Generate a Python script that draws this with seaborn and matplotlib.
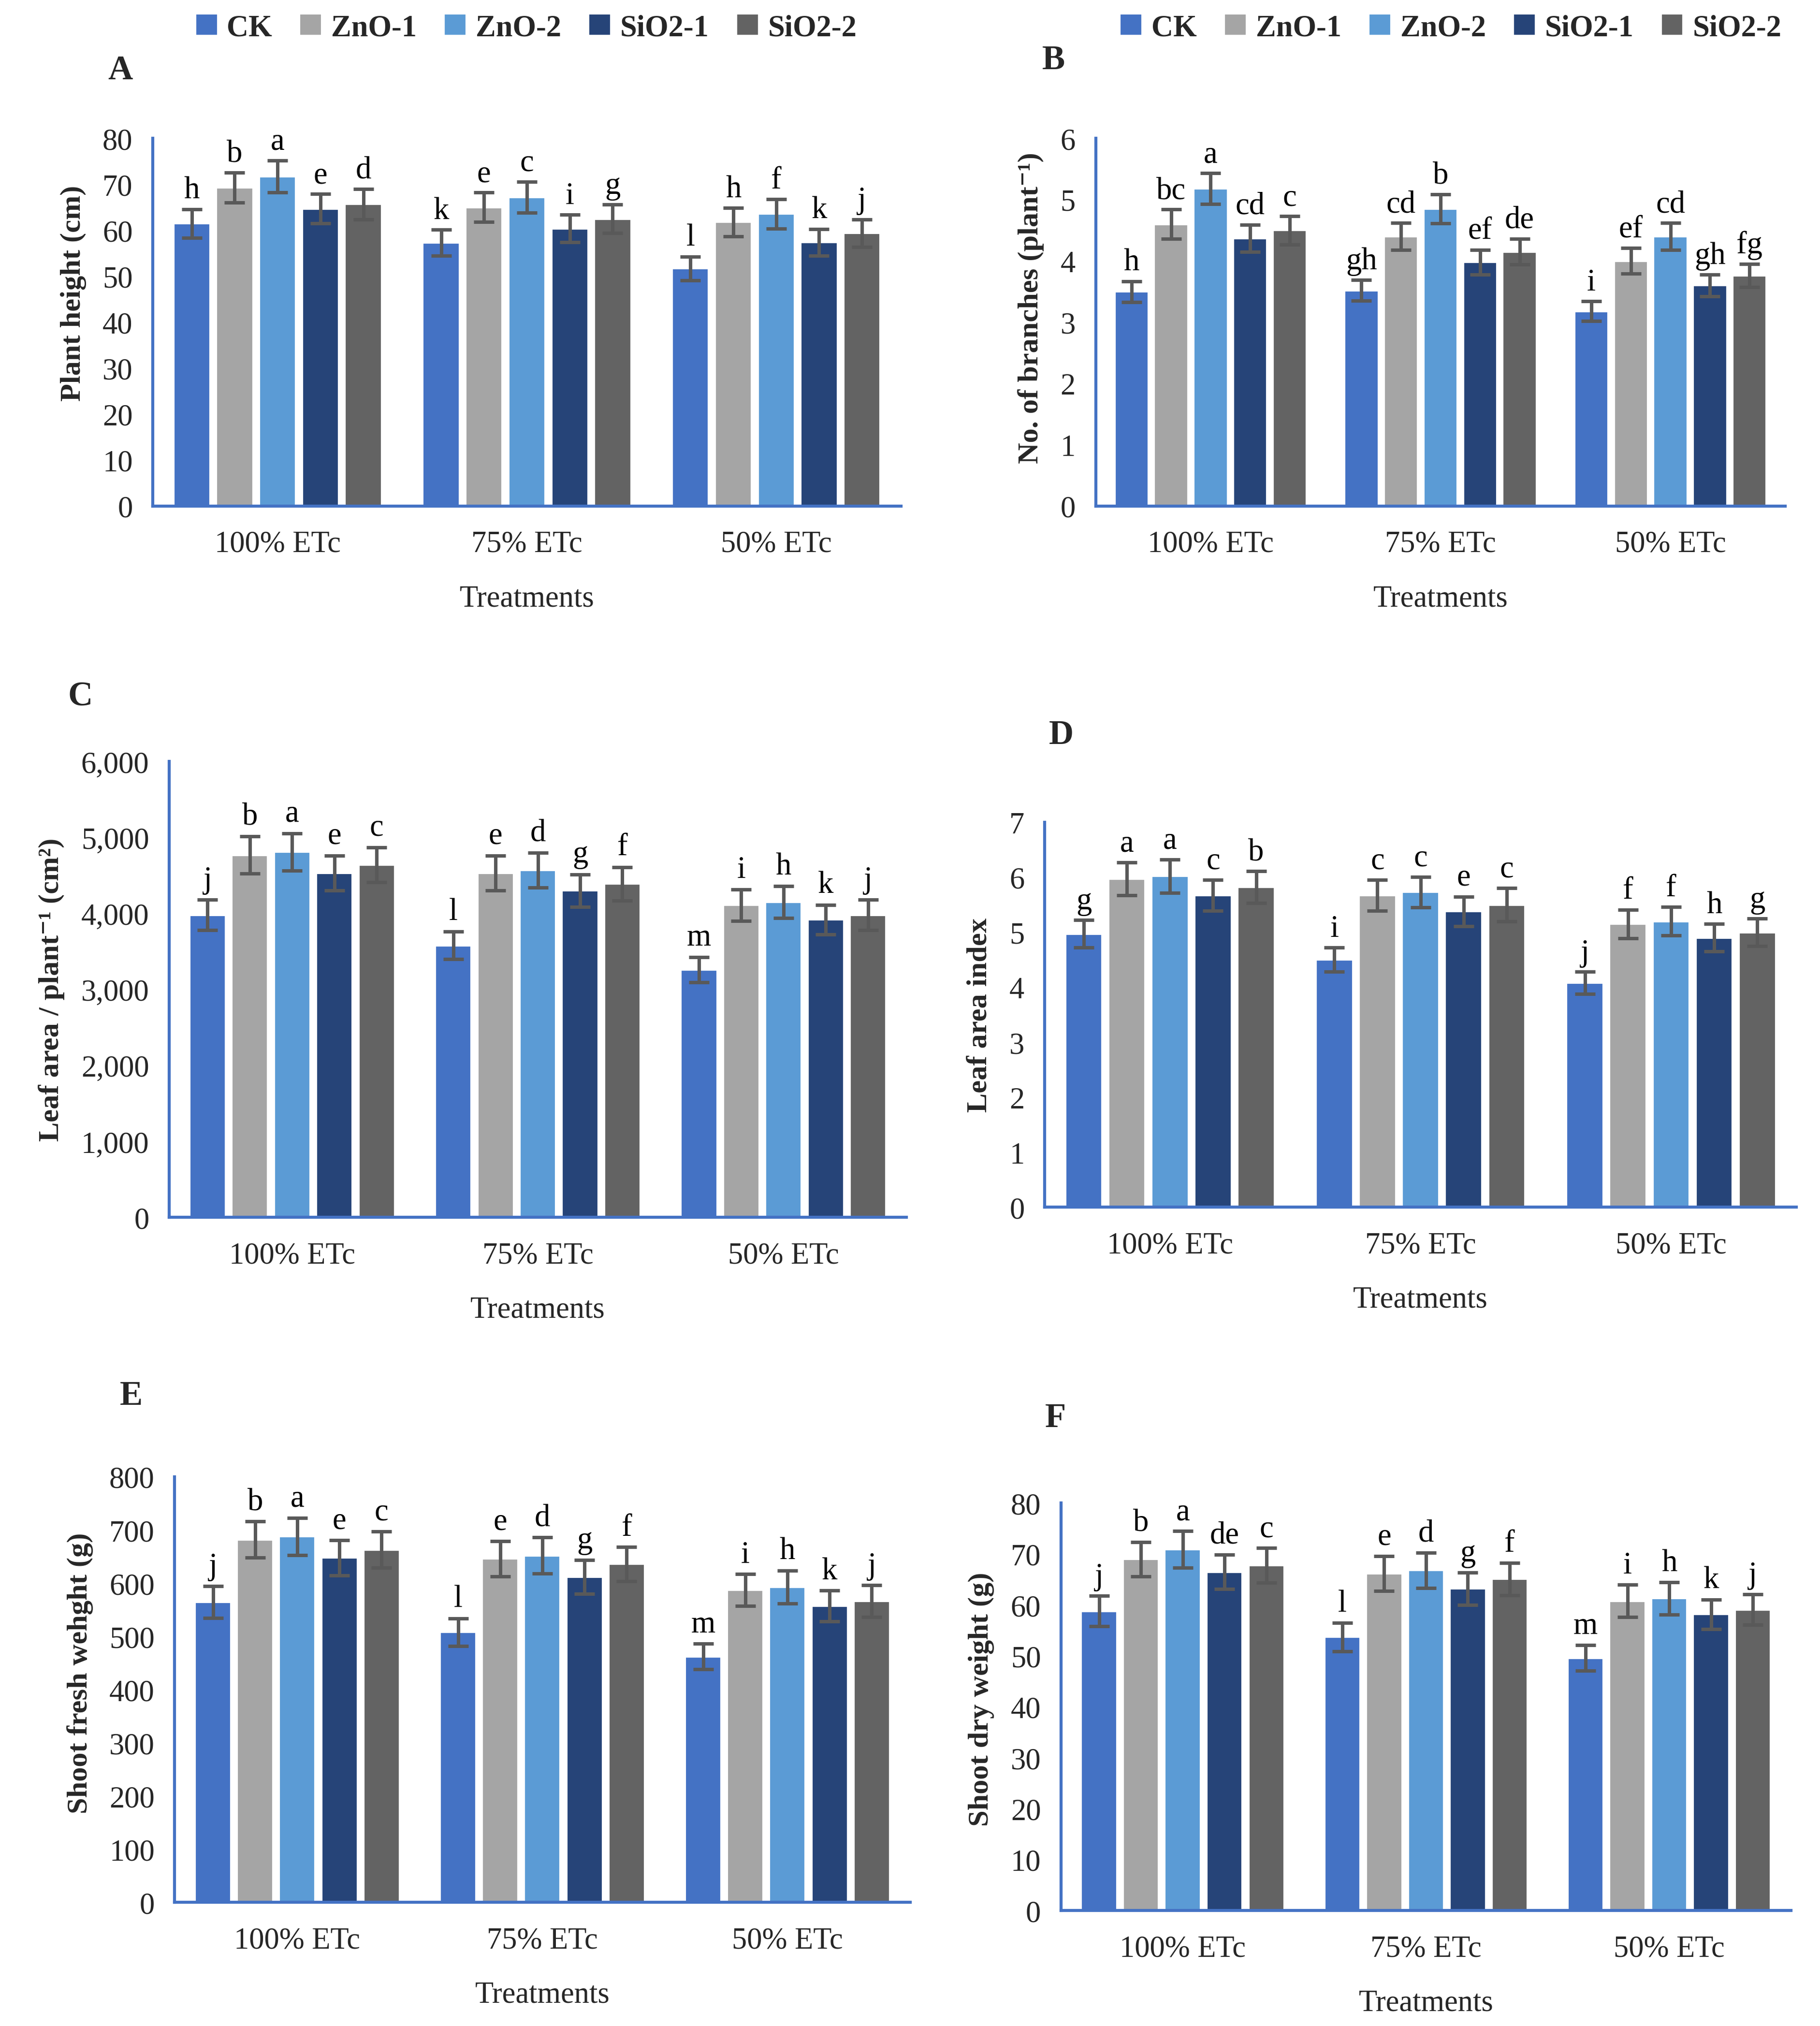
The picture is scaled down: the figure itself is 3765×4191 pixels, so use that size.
import seaborn as sns
import pandas as pd
import matplotlib.pyplot as plt
from matplotlib.ticker import FuncFormatter

treatments = ["100% ETc", "75% ETc", "50% ETc"]
series = ["CK", "ZnO-1", "ZnO-2", "SiO2-1", "SiO2-2"]
colors = ["#4472C4", "#A5A5A5", "#5B9BD5", "#264478", "#636363"]

# rows = treatments, columns = series
# A - plant height
height_mean = [[61.5, 69.3, 71.7, 64.7, 65.7],
               [57.3, 65.0, 67.2, 60.4, 62.5],
               [51.7, 61.8, 63.6, 57.4, 59.4]]
height_err = [[3.1, 3.3, 3.5, 3.2, 3.3],
              [2.8, 3.2, 3.4, 3.0, 3.1],
              [2.6, 3.1, 3.2, 2.9, 3.0]]
height_let = [["h", "b", "a", "e", "d"],
              ["k", "e", "c", "i", "g"],
              ["l", "h", "f", "k", "j"]]

# B - number of branches
branch_mean = [[3.50, 4.60, 5.18, 4.37, 4.50],
               [3.52, 4.40, 4.85, 3.98, 4.15],
               [3.18, 4.00, 4.40, 3.60, 3.76]]
branch_err = [[0.17, 0.24, 0.25, 0.22, 0.23],
              [0.17, 0.22, 0.24, 0.20, 0.21],
              [0.16, 0.21, 0.22, 0.18, 0.19]]
branch_let = [["h", "bc", "a", "cd", "c"],
              ["gh", "cd", "b", "ef", "de"],
              ["i", "ef", "cd", "gh", "fg"]]

# C - leaf area
area_mean = [[3980, 4770, 4810, 4530, 4640],
             [3580, 4530, 4570, 4300, 4390],
             [3260, 4110, 4150, 3920, 3980]]
area_err = [[200, 245, 245, 230, 230],
            [180, 230, 230, 215, 220],
            [165, 205, 210, 195, 200]]
area_let = [["j", "b", "a", "e", "c"],
            ["l", "e", "d", "g", "f"],
            ["m", "i", "h", "k", "j"]]

# D - leaf area index
lai_mean = [[4.97, 5.97, 6.02, 5.67, 5.82],
            [4.50, 5.67, 5.73, 5.38, 5.50],
            [4.08, 5.15, 5.20, 4.90, 5.00]]
lai_err = [[0.25, 0.30, 0.30, 0.28, 0.29],
           [0.22, 0.28, 0.28, 0.27, 0.30],
           [0.20, 0.26, 0.26, 0.25, 0.25]]
lai_let = [["g", "a", "a", "c", "b"],
           ["i", "c", "c", "e", "c"],
           ["j", "f", "f", "h", "g"]]

# E - shoot fresh weight
fresh_mean = [[565, 682, 688, 648, 663],
              [508, 646, 652, 612, 636],
              [462, 587, 593, 557, 566]]
fresh_err = [[30, 34, 35, 33, 34],
             [26, 33, 34, 32, 32],
             [24, 30, 31, 29, 30]]
fresh_let = [["j", "b", "a", "e", "c"],
             ["l", "e", "d", "g", "f"],
             ["m", "i", "h", "k", "j"]]

# F - shoot dry weight
dry_mean = [[58.8, 69.0, 70.9, 66.5, 67.8],
            [53.7, 66.2, 66.8, 63.2, 65.1],
            [49.6, 60.8, 61.3, 58.2, 59.1]]
dry_err = [[3.0, 3.4, 3.6, 3.4, 3.4],
           [2.8, 3.4, 3.5, 3.2, 3.2],
           [2.5, 3.2, 3.2, 2.9, 3.0]]
dry_let = [["j", "b", "a", "de", "c"],
           ["l", "e", "d", "g", "f"],
           ["m", "i", "h", "k", "j"]]

sns.set_style("white")
serif = ["Liberation Serif", "DejaVu Serif"]
plt.rcParams["font.family"] = serif
axis_blue = "#4472C4"

fig = plt.figure(figsize=(12.55, 13.9733), dpi=300)


def panel(rect, mean, err, letters, ymax, step, ylabel, legend=False, fmt=None, label_y=0.5):
    ax = fig.add_axes(rect)
    rows = []
    for i, t in enumerate(treatments):
        for j, s in enumerate(series):
            rows.append((t, s, mean[i][j]))
    df = pd.DataFrame(rows, columns=["Treatment", "Series", "Value"])
    sns.barplot(data=df, x="Treatment", y="Value", hue="Series", order=treatments,
                hue_order=series, palette=colors, saturation=1, width=0.86, gap=0.14,
                errorbar=None, legend=legend, ax=ax)
    bars = list(ax.containers)
    for j, cont in enumerate(bars):
        for i, bar in enumerate(cont):
            x = bar.get_x() + bar.get_width() / 2
            v = bar.get_height()
            e = err[i][j]
            ax.errorbar(x, v, yerr=e, fmt="none", ecolor="#595959", elinewidth=1.7,
                        capsize=5, capthick=1.7)
            ax.text(x, v + e + ymax * 0.012, letters[i][j], ha="center", va="bottom",
                    fontsize=15.5, color="black")
    ax.set_xlim(-0.5, 2.5)
    ax.set_ylim(0, ymax)
    ax.set_yticks([k * step for k in range(int(round(ymax / step)) + 1)])
    if fmt:
        ax.yaxis.set_major_formatter(FuncFormatter(fmt))
    ax.set_xticks([-0.5, 0.5, 1.5, 2.5], minor=True)
    ax.tick_params(axis="x", which="major", length=0, pad=12, labelsize=15)
    ax.tick_params(axis="x", which="minor", length=6, width=1.3, color=axis_blue, direction="out")
    ax.tick_params(axis="y", length=6, width=1.3, color=axis_blue, direction="out",
                   labelsize=15, pad=4)
    for side in ["top", "right"]:
        ax.spines[side].set_visible(False)
    for side in ["left", "bottom"]:
        ax.spines[side].set_color(axis_blue)
        ax.spines[side].set_linewidth(1.5)
    ax.set_xlabel("Treatments", fontsize=15, labelpad=13)
    ax.set_ylabel(ylabel, fontsize=14.5, fontweight="bold", labelpad=8)
    ax.yaxis.label.set_y(label_y)
    return ax


axA = panel([0.084, 0.750, 0.411, 0.1815], height_mean, height_err, height_let,
            80, 10, "Plant height (cm)", legend=True, label_y=0.58)
axB = panel([0.602, 0.750, 0.379, 0.1815], branch_mean, branch_err, branch_let,
            6, 1, "No. of branches (plant\u207b\u00b9)", legend=True, label_y=0.54)
axC = panel([0.093, 0.399, 0.405, 0.225], area_mean, area_err, area_let,
            6000, 1000, "Leaf area / plant\u207b\u00b9 (cm\u00b2)", fmt=lambda v, p: f"{int(v):,}")
axD = panel([0.574, 0.404, 0.413, 0.190], lai_mean, lai_err, lai_let,
            7, 1, "Leaf area index")
axE = panel([0.096, 0.061, 0.404, 0.210], fresh_mean, fresh_err, fresh_let,
            800, 100, "Shoot fresh wehght (g)", label_y=0.54)
axF = panel([0.583, 0.057, 0.401, 0.201], dry_mean, dry_err, dry_let,
            80, 10, "Shoot dry weight (g)", label_y=0.52)

for ax, cx in [(axA, 0.289), (axB, 0.797)]:
    sns.move_legend(ax, "center", bbox_to_anchor=(cx, 0.986), bbox_transform=fig.transFigure,
                    ncol=5, frameon=False, title=None, prop={"weight": "bold", "size": 15},
                    handlelength=0.75, handleheight=0.75, handletextpad=0.3,
                    columnspacing=0.9)

for lab, x, y in [("A", 0.066, 0.965), ("B", 0.579, 0.970), ("C", 0.044, 0.656),
                  ("D", 0.583, 0.637), ("E", 0.072, 0.311), ("F", 0.580, 0.300)]:
    fig.text(x, y, lab, fontsize=17, fontweight="bold", ha="center", va="center")

fig.savefig("out.png", dpi=300, facecolor="white")
